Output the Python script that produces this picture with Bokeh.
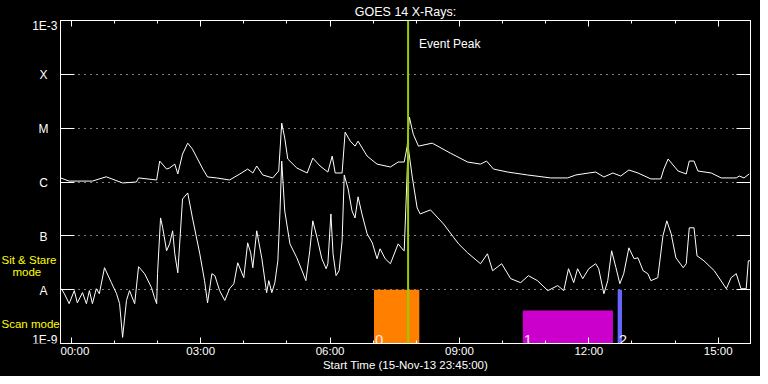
from bokeh.plotting import figure
from bokeh.layouts import row
from bokeh.models import (FixedTicker, LinearAxis, LogAxis, CustomJSTickFormatter,
                          Span, Label, ColumnDataSource, Range1d)
from bokeh.core.properties import value
from bokeh.embed import file_html
from bokeh.resources import INLINE

# ---- data (time in hours after 00:00 UT; flux in W/m^2) ----
long_t = [-0.25, -0.05, 0.49, 0.81, 1.19, 1.51, 1.56, 1.98, 2.05, 2.21, 2.28, 2.40, 2.47,
          2.58, 2.70, 2.81, 3.05, 3.16, 3.37, 3.67, 3.91, 4.09, 4.21, 4.30, 4.44, 4.67,
          4.81, 4.88, 4.95, 5.02, 5.23, 5.47, 5.60, 5.77, 5.95, 6.05, 6.12, 6.28, 6.35,
          6.47, 6.58, 6.65, 6.86, 7.09, 7.40, 7.58, 7.72, 7.79, 7.84, 7.93, 8.05, 8.37,
          8.79, 9.19, 9.49, 9.63, 9.79, 10.12, 10.58, 11.12, 11.51, 11.70, 12.00, 12.16,
          12.35, 12.56, 12.74, 12.93, 13.14, 13.44, 13.67, 13.74, 13.84, 14.07, 14.26,
          14.33, 14.44, 14.53, 14.84, 15.07, 15.42, 15.49, 15.60, 15.72]
long_flux = [1.19e-6, 1.04e-6, 1.04e-6, 1.25e-6, 0.96e-6, 1.0e-6, 1.19e-6, 1.09e-6, 2.45e-6,
             1.74e-6, 1.82e-6, 2.15e-6, 1.41e-6, 3.3e-6, 5.27e-6, 4.08e-6, 1.74e-6, 1.24e-6,
             1.19e-6, 1.09e-6, 1.41e-6, 1.74e-6, 1.47e-6, 1.98e-6, 1.35e-6, 1.19e-6, 1.60e-6,
             1.24e-5, 6.52e-6, 2.67e-6, 1.82e-6, 1.47e-6, 2.78e-6, 1.98e-6, 1.53e-6, 3.03e-6,
             1.47e-6, 1.47e-6, 8.43e-6, 5.74e-6, 4.64e-6, 5.74e-6, 3.03e-6, 2.15e-6, 1.90e-6,
             2.35e-6, 2.35e-6, 4.64e-6, 1.6e-5, 7.74e-6, 4.64e-6, 5.27e-6, 3.44e-6, 2.35e-6,
             2.15e-6, 2.45e-6, 1.74e-6, 1.53e-6, 1.35e-6, 1.19e-6, 1.19e-6, 1.35e-6, 1.47e-6,
             1.53e-6, 1.24e-6, 1.47e-6, 1.29e-6, 1.67e-6, 1.47e-6, 1.14e-6, 1.14e-6, 1.74e-6,
             2.67e-6, 1.60e-6, 1.41e-6, 2.45e-6, 2.45e-6, 1.60e-6, 1.47e-6, 1.19e-6, 1.19e-6,
             1.29e-6, 1.19e-6, 1.41e-6]

short_t = [-0.23, -0.16, -0.05, 0.07, 0.14, 0.26, 0.35, 0.42, 0.49, 0.58, 0.65, 0.77, 0.93,
           1.05, 1.12, 1.19, 1.28, 1.35, 1.47, 1.56, 1.70, 1.86, 1.93, 1.98, 2.00, 2.07,
           2.12, 2.21, 2.28, 2.35, 2.40, 2.47, 2.58, 2.70, 2.81, 2.98, 3.09, 3.16, 3.26,
           3.33, 3.44, 3.56, 3.67, 3.77, 3.86, 4.00, 4.09, 4.16, 4.21, 4.30, 4.42, 4.53,
           4.58, 4.65, 4.72, 4.79, 4.84, 4.88, 4.95, 5.07, 5.23, 5.35, 5.44, 5.53, 5.60,
           5.70, 5.81, 5.91, 5.95, 6.02, 6.07, 6.14, 6.21, 6.28, 6.33, 6.42, 6.51, 6.58,
           6.65, 6.74, 6.86, 6.98, 7.09, 7.16, 7.28, 7.40, 7.58, 7.67, 7.72, 7.77, 7.81,
           7.91, 8.02, 8.09, 8.33, 8.63, 8.98, 9.19, 9.49, 9.65, 9.77, 9.98, 10.19, 10.42,
           10.60, 10.81, 11.05, 11.28, 11.42, 11.53, 11.65, 11.74, 11.86, 12.00, 12.16,
           12.23, 12.35, 12.44, 12.53, 12.63, 12.72, 12.81, 12.93, 13.05, 13.14, 13.26,
           13.37, 13.44, 13.60, 13.72, 13.81, 13.91, 14.02, 14.19, 14.26, 14.33, 14.44,
           14.51, 14.67, 14.91, 15.19, 15.30, 15.42, 15.53, 15.65, 15.70, 15.74]
short_flux = [1.04e-8, 0.84e-8, 0.55e-8, 0.96e-8, 0.57e-8, 0.88e-8, 0.55e-8, 0.96e-8, 0.55e-8,
              1.04e-8, 0.84e-8, 2.56e-8, 1.35e-8, 0.84e-8, 0.55e-8, 1.3e-9, 0.63e-8, 0.96e-8,
              0.55e-8, 2.67e-8, 1.98e-8, 1.09e-8, 0.71e-8, 0.55e-8, 1.98e-8, 2.15e-7, 1.41e-7,
              5.27e-8, 7.10e-8, 1.24e-7, 4.64e-8, 2.06e-8, 4.84e-7, 6.26e-7, 2.15e-7, 4.64e-8,
              1.47e-8, 0.57e-8, 1.98e-8, 1.82e-8, 0.96e-8, 0.63e-8, 1.04e-8, 1.29e-8, 3.16e-8,
              1.67e-8, 7.41e-8, 4.84e-8, 2.56e-8, 1.24e-7, 3.75e-8, 0.88e-8, 1.47e-8, 0.88e-8,
              1.35e-8, 3.44e-8, 2.9e-7, 2.45e-6, 2.9e-7, 7.10e-8, 3.91e-8, 2.25e-8, 1.47e-8,
              5.27e-8, 1.9e-7, 9.17e-8, 3.75e-8, 2.45e-8, 3.03e-8, 2.55e-7, 4.64e-8, 1.82e-8,
              2.25e-8, 8.07e-8, 1.35e-6, 7.4e-7, 2.9e-7, 2.15e-7, 5.3e-7, 2.55e-7, 1.09e-7,
              7.41e-8, 3.75e-8, 5.74e-8, 3.75e-8, 3.03e-8, 7.10e-8, 5.74e-8, 5.27e-8, 6.0e-7,
              4.6e-6, 1.19e-6, 3.3e-7, 2.55e-7, 3.03e-7, 1.67e-7, 7.10e-8, 4.84e-8, 3.03e-8,
              4.64e-8, 2.25e-8, 3.03e-8, 1.60e-8, 1.35e-8, 1.82e-8, 1.47e-8, 0.96e-8, 1.19e-8,
              0.96e-8, 2.45e-8, 1.35e-8, 2.45e-8, 1.60e-8, 2.45e-8, 3.03e-8, 2.45e-8, 0.84e-8,
              1.47e-8, 5.27e-8, 2.56e-8, 1.29e-8, 1.98e-8, 5.99e-8, 3.75e-8, 3.91e-8, 2.25e-8,
              1.98e-8, 1.47e-8, 1.67e-8, 1.0e-7, 1.9e-7, 1.09e-7, 3.91e-8, 2.56e-8, 3.03e-8,
              1.41e-7, 1.41e-7, 4.26e-8, 3.44e-8, 2.25e-8, 1.04e-8, 1.67e-8, 1.98e-8, 1.04e-8,
              1.04e-8, 3.44e-8, 3.44e-8]

level_values = [1e-9, 1e-8, 1e-7, 1e-6, 1e-5, 1e-4, 1e-3]
level_labels = ["1E-9", "A", "B", "C", "M", "X", "1E-3"]
grid_levels = [1e-8, 1e-7, 1e-6, 1e-5, 1e-4]
hour_ticks = [0, 3, 6, 9, 12, 15]
hour_labels = ["00:00", "03:00", "06:00", "09:00", "12:00", "15:00"]
minor_hours = [1, 2, 4, 5, 7, 8, 10, 11, 13, 14]
event_peak = 7.81

box_start = [7.02, 10.47, 12.67]
box_end = [8.07, 12.56, 12.77]
box_bottom = [1e-9, 1e-9, 1e-9]
box_top = [1e-8, 4.1e-9, 1e-8]
box_colors = ["#ff8000", "#cc00cc", "#6666ff"]
box_labels = ["0", "1", "2"]

mode_labels = ["Sit & Stare", "mode", "Scan mode"]
mode_levels = [3.6e-8, 2.15e-8, 2.35e-9]

FONT = "Liberation Sans"
H = 376
LEFT_W = 60

# ---------------- main plot ----------------
p = figure(width=700, height=H, y_axis_type="log",
           x_range=(-0.25, 15.75), y_range=(1e-9, 1e-3),
           output_backend="svg", toolbar_location=None,
           background_fill_color="black", border_fill_color="black",
           min_border_left=0, min_border_right=10, min_border_top=19,
           min_border_bottom=33)
p.outline_line_color = "white"
p.outline_line_alpha = 1.0
p.title.text = "GOES 14 X-Rays:"
p.title.text_color = "white"
p.title.text_font = FONT
p.title.text_font_size = "12.5px"
p.title.text_font_style = "normal"
p.title.align = "center"
p.title.standoff = 4

p.xgrid.visible = False
p.ygrid.ticker = FixedTicker(ticks=grid_levels)
p.ygrid.grid_line_color = "white"
p.ygrid.grid_line_dash = "1 5"
p.ygrid.grid_line_width = 1

blank = CustomJSTickFormatter(code="return '';")

yl = p.yaxis[0]
yl.ticker = FixedTicker(ticks=level_values, minor_ticks=[])
yl.formatter = blank
yl.major_tick_in = 14
yl.major_tick_out = 0
yl.minor_tick_in = 0
yl.minor_tick_out = 0
yl.axis_line_color = "white"
yl.major_tick_line_color = "white"
yl.major_label_standoff = 0
yl.major_label_text_font_size = "1px"

yr = LogAxis(ticker=FixedTicker(ticks=level_values, minor_ticks=[]), formatter=blank,
             major_tick_in=14, major_tick_out=0, minor_tick_in=0, minor_tick_out=0,
             axis_line_color="white", major_tick_line_color="white",
             major_label_standoff=0, major_label_text_font_size="1px")
p.add_layout(yr, "right")

hour_map = dict(zip([str(h) for h in hour_ticks], hour_labels))
xfmt = CustomJSTickFormatter(args=dict(m=hour_map),
                             code="const k = String(Math.round(tick)); return (k in m) ? m[k] : '';")
xb = p.xaxis[0]
xb.ticker = FixedTicker(ticks=hour_ticks, minor_ticks=minor_hours)
xb.formatter = xfmt
xb.major_tick_in = 6
xb.major_tick_out = 0
xb.minor_tick_in = 3
xb.minor_tick_out = 0
xb.axis_line_color = "white"
xb.major_tick_line_color = "white"
xb.minor_tick_line_color = "white"
xb.major_label_text_color = "white"
xb.major_label_text_font = FONT
xb.major_label_text_font_size = "11.5px"
xb.major_label_standoff = 1
xb.axis_label = "Start Time (15-Nov-13 23:45:00)"
xb.axis_label_text_color = "white"
xb.axis_label_text_font = FONT
xb.axis_label_text_font_size = "11.5px"
xb.axis_label_text_font_style = "normal"
xb.axis_label_standoff = -1

xt = LinearAxis(ticker=FixedTicker(ticks=hour_ticks, minor_ticks=minor_hours), formatter=blank,
                major_tick_in=6, major_tick_out=0, minor_tick_in=3, minor_tick_out=0,
                axis_line_color="white", major_tick_line_color="white",
                minor_tick_line_color="white", major_label_standoff=0,
                major_label_text_font_size="1px")
p.add_layout(xt, "above")

boxes = ColumnDataSource(dict(left=box_start, right=box_end, bottom=box_bottom, top=box_top,
                              color=box_colors, label=box_labels))
p.quad(left="left", right="right", bottom="bottom", top="top", fill_color="color",
       line_color=None, source=boxes)

p.add_layout(Span(location=event_peak, dimension="height", line_color="#99cc00", line_width=2))

p.line(long_t, long_flux, line_color="white", line_width=1)
p.line(short_t, short_flux, line_color="white", line_width=1)

p.text(x="left", y="bottom", text="label", source=boxes, text_color="#ffe8e8",
       text_font=value(FONT), text_font_size="15px", text_baseline="alphabetic",
       text_align="left", x_offset=1, y_offset=-4)

p.add_layout(Label(x=event_peak, y=3.6e-4, x_offset=11, text="Event Peak", text_color="white",
                   text_font=FONT, text_font_size="12px", text_baseline="middle"))

# ---------------- label strip left of the frame (frames are aligned by the row) -------------
lab = figure(width=LEFT_W, height=H, y_axis_type="log",
             x_range=Range1d(0, LEFT_W), y_range=p.y_range,
             output_backend="svg", toolbar_location=None,
             x_axis_location=None, y_axis_location=None,
             background_fill_color="black", border_fill_color="black",
             min_border=0, min_border_left=0, min_border_right=0)
lab.outline_line_color = None
lab.xgrid.visible = False
lab.ygrid.visible = False

lab.text(x=[57], y=level_values[-1:], text=level_labels[-1:], text_color="white",
         text_font=value(FONT), text_font_size="12px", text_align="right",
         text_baseline="middle", y_offset=5)
lab.text(x=[57], y=level_values[:1], text=level_labels[:1], text_color="white",
         text_font=value(FONT), text_font_size="12px", text_align="right",
         text_baseline="middle", y_offset=-4)
lab.text(x=[43] * 5, y=level_values[1:-1], text=level_labels[1:-1], text_color="white",
         text_font=value(FONT), text_font_size="12px", text_align="center",
         text_baseline="middle", y_offset=1)
lab.text(x=[1, 12, 1], y=mode_levels, text=mode_labels, text_color="yellow",
         text_font=value(FONT), text_font_size="11.5px", text_align="left",
         text_baseline="middle")

layout = row(lab, p, spacing=0)
layout.styles = {"background-color": "black"}

open("out.html", "w").write(file_html(layout, INLINE))
